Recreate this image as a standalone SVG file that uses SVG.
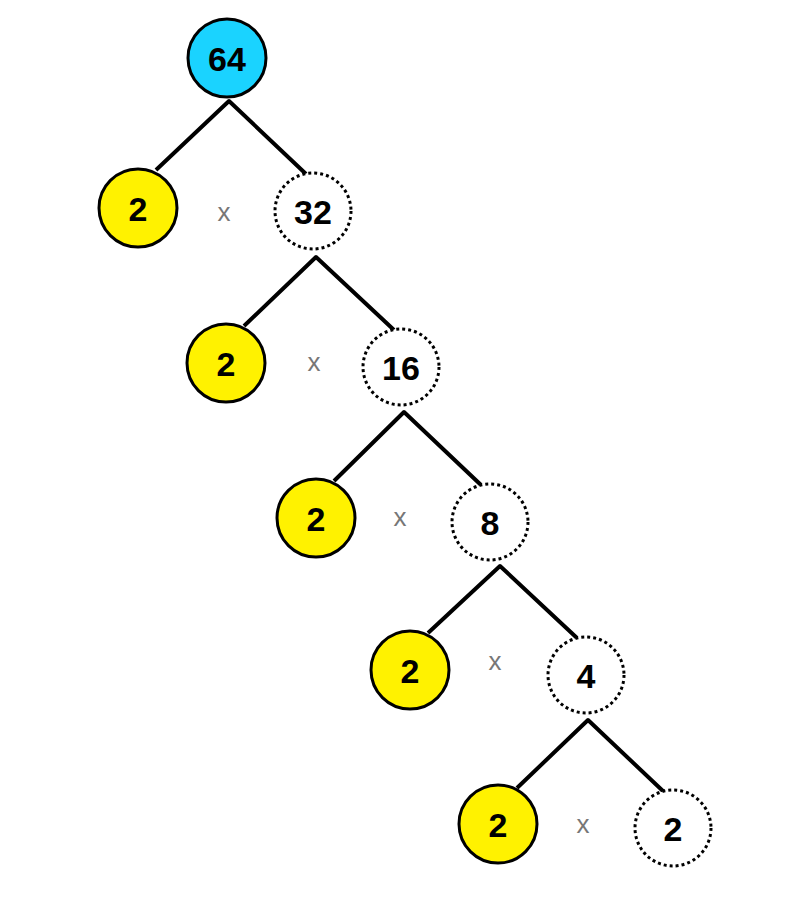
<svg xmlns="http://www.w3.org/2000/svg" width="800" height="898" viewBox="0 0 800 898">
<style>
.y{fill:#fff200;stroke:#000;stroke-width:3}
.d{fill:#fff;stroke:#000;stroke-width:3;stroke-dasharray:3 3}
.t{font-family:"Liberation Sans",Arial,sans-serif;font-weight:bold;font-size:34px;text-anchor:middle;fill:#000}
.x{font-family:"Liberation Sans",Arial,sans-serif;font-size:26px;text-anchor:middle;fill:#777}
.c{fill:none;stroke:#000;stroke-width:4;stroke-linejoin:round}
</style>
<rect width="800" height="898" fill="#fff"/>
<g id="connectors">
<path class="c" d="M156,170 L229,101 L306,174"/>
<path class="c" d="M244,326 L316,257 L394,330"/>
<path class="c" d="M334,481 L404,412 L481,485"/>
<path class="c" d="M428,633 L500,566 L577,638"/>
<path class="c" d="M517,788 L588,720 L664,792"/>
</g>
<g id="n64"><circle cx="227" cy="58" r="39" fill="#1ad3ff" stroke="#000" stroke-width="3"/><text class="t" x="227" y="71">64</text></g>
<g id="y1"><circle class="y" cx="138" cy="208" r="39"/><text class="t" x="138" y="221">2</text></g>
<text class="x" x="224" y="221">x</text>
<g id="n32"><circle class="d" cx="313" cy="211" r="38"/><text class="t" x="313" y="224">32</text></g>
<g id="y2"><circle class="y" cx="226" cy="363" r="39"/><text class="t" x="226" y="376">2</text></g>
<text class="x" x="314" y="371">x</text>
<g id="n16"><circle class="d" cx="401" cy="367" r="38"/><text class="t" x="401" y="380">16</text></g>
<g id="y3"><circle class="y" cx="316" cy="518" r="39"/><text class="t" x="316" y="531">2</text></g>
<text class="x" x="400" y="526">x</text>
<g id="n8"><circle class="d" cx="490" cy="522" r="38"/><text class="t" x="490" y="535">8</text></g>
<g id="y4"><circle class="y" cx="410" cy="670" r="39"/><text class="t" x="410" y="683">2</text></g>
<text class="x" x="495" y="670">x</text>
<g id="n4"><circle class="d" cx="586" cy="675" r="38"/><text class="t" x="586" y="688">4</text></g>
<g id="y5"><circle class="y" cx="498" cy="824" r="39"/><text class="t" x="498" y="837">2</text></g>
<text class="x" x="583" y="833">x</text>
<g id="n2"><circle class="d" cx="673" cy="828" r="38"/><text class="t" x="673" y="841">2</text></g>
</svg>
